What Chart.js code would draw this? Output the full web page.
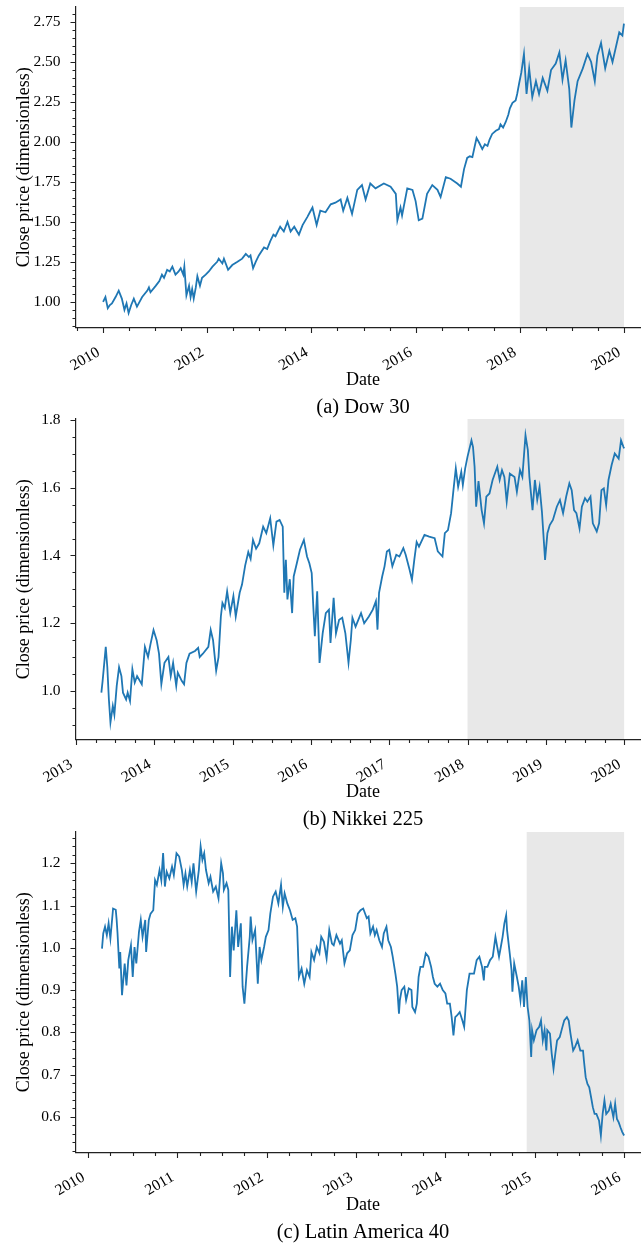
<!DOCTYPE html>
<html>
<head>
<meta charset="utf-8">
<title>Close price of three indices</title>
<script src="https://cdn.jsdelivr.net/npm/chart.js@4.4.1/dist/chart.umd.min.js"></script>
<style>
  html, body { margin: 0; padding: 0; background: #fff; width: 641px; height: 1244px; overflow: hidden; }
  .panel { position: absolute; left: 0; width: 660px; height: 420px; }
  .panel canvas { display: block; }
</style>
</head>
<body>
<div class="panel" style="top:0px"><canvas id="dow" width="660" height="420"></canvas></div>
<div class="panel" style="top:412px"><canvas id="nikkei" width="660" height="420"></canvas></div>
<div class="panel" style="top:825px"><canvas id="latam" width="660" height="420"></canvas></div>
<script>
// ---- Dow 30 (normalised close, decimal years) ----
const dowDates = [
  2010.00, 2010.045, 2010.09, 2010.13, 2010.17, 2010.24, 2010.30, 2010.36, 2010.41, 2010.45,
  2010.49, 2010.54, 2010.59, 2010.65, 2010.70, 2010.75, 2010.85, 2010.88, 2010.91, 2011.01,
  2011.08, 2011.13, 2011.17, 2011.23, 2011.28, 2011.33, 2011.39, 2011.45, 2011.49, 2011.54,
  2011.56, 2011.60, 2011.65, 2011.68, 2011.71, 2011.74, 2011.78, 2011.81, 2011.86, 2011.90,
  2011.97, 2012.03, 2012.10, 2012.19, 2012.22, 2012.29, 2012.32, 2012.40, 2012.48, 2012.58,
  2012.67, 2012.74, 2012.80, 2012.83, 2012.88, 2012.93, 2012.99, 2013.09, 2013.15, 2013.21,
  2013.27, 2013.31, 2013.40, 2013.47, 2013.54, 2013.60, 2013.67, 2013.76, 2013.83, 2013.92,
  2013.97, 2014.02, 2014.10, 2014.17, 2014.27, 2014.37, 2014.46, 2014.56, 2014.61, 2014.69,
  2014.78, 2014.88, 2014.97, 2015.04, 2015.13, 2015.23, 2015.39, 2015.52, 2015.62, 2015.65,
  2015.71, 2015.74, 2015.84, 2015.94, 2016.00, 2016.06, 2016.13, 2016.22, 2016.32, 2016.42,
  2016.48, 2016.58, 2016.67, 2016.80, 2016.87, 2016.93, 2016.99, 2017.04, 2017.09, 2017.13,
  2017.17, 2017.22, 2017.28, 2017.33, 2017.38, 2017.42, 2017.47, 2017.54, 2017.60, 2017.63,
  2017.68, 2017.73, 2017.78, 2017.81, 2017.86, 2017.92, 2017.95, 2017.99, 2018.03, 2018.08,
  2018.13, 2018.18, 2018.24, 2018.31, 2018.37, 2018.44, 2018.53, 2018.60, 2018.69, 2018.76,
  2018.82, 2018.88, 2018.95, 2018.99, 2019.05, 2019.11, 2019.21, 2019.30, 2019.37, 2019.44,
  2019.49, 2019.56, 2019.64, 2019.72, 2019.78, 2019.85, 2019.91, 2019.97, 2020.00
];
const dowClose = [
  1.00, 1.03, 0.96, 0.98, 0.99, 1.03, 1.07, 1.02, 0.95, 0.99,
  0.93, 0.98, 1.02, 0.97, 1.00, 1.03, 1.07, 1.09, 1.06, 1.10,
  1.13, 1.17, 1.15, 1.20, 1.19, 1.22, 1.17, 1.19, 1.21, 1.17,
  1.22, 1.04, 1.10, 1.03, 1.08, 1.02, 1.09, 1.16, 1.10, 1.15,
  1.17, 1.19, 1.22, 1.25, 1.27, 1.24, 1.27, 1.20, 1.23, 1.25,
  1.27, 1.30, 1.28, 1.29, 1.21, 1.25, 1.29, 1.34, 1.33, 1.38,
  1.42, 1.41, 1.47, 1.44, 1.50, 1.44, 1.47, 1.42, 1.48, 1.53,
  1.56, 1.59, 1.48, 1.57, 1.56, 1.61, 1.62, 1.64, 1.57, 1.65,
  1.55, 1.70, 1.73, 1.64, 1.74, 1.71, 1.74, 1.72, 1.675, 1.51,
  1.59, 1.54, 1.71, 1.70, 1.63, 1.51, 1.52, 1.675, 1.73, 1.70,
  1.655, 1.78, 1.77, 1.74, 1.72, 1.83, 1.90, 1.91, 1.905, 1.965,
  2.025, 1.995, 1.955, 1.985, 1.975, 2.015, 2.05, 2.07, 2.08, 2.11,
  2.09, 2.125, 2.17, 2.21, 2.245, 2.26, 2.30, 2.37, 2.435, 2.55,
  2.30, 2.46, 2.28, 2.38, 2.30, 2.40, 2.32, 2.45, 2.49, 2.56,
  2.39, 2.51, 2.33, 2.09, 2.26, 2.38, 2.46, 2.55, 2.50, 2.38,
  2.54, 2.62, 2.46, 2.57, 2.50, 2.60, 2.685, 2.665, 2.74
];
const dowYearTicks = [2010, 2012, 2014, 2016, 2018, 2020];
const dowPriceTicks = [1.00, 1.25, 1.50, 1.75, 2.00, 2.25, 2.50, 2.75];
const dowTestSpan = [2018.0, 2020.0];

// ---- Nikkei 225 ----
const nikkeiDates = [
  2013.324, 2013.34, 2013.38, 2013.40, 2013.42, 2013.44, 2013.47, 2013.49, 2013.52, 2013.55,
  2013.58, 2013.60, 2013.64, 2013.66, 2013.69, 2013.72, 2013.75, 2013.78, 2013.84, 2013.88,
  2013.92, 2013.95, 2013.99, 2014.03, 2014.06, 2014.09, 2014.13, 2014.18, 2014.21, 2014.24,
  2014.28, 2014.30, 2014.35, 2014.38, 2014.41, 2014.45, 2014.52, 2014.56, 2014.58, 2014.62,
  2014.69, 2014.72, 2014.75, 2014.79, 2014.82, 2014.85, 2014.87, 2014.90, 2014.93, 2014.97,
  2015.01, 2015.04, 2015.09, 2015.12, 2015.16, 2015.20, 2015.23, 2015.26, 2015.30, 2015.34,
  2015.39, 2015.43, 2015.48, 2015.52, 2015.56, 2015.60, 2015.64, 2015.66, 2015.68, 2015.70,
  2015.73, 2015.76, 2015.78, 2015.82, 2015.86, 2015.91, 2015.95, 2015.98, 2016.01, 2016.03,
  2016.05, 2016.08, 2016.11, 2016.15, 2016.19, 2016.23, 2016.25, 2016.29, 2016.32, 2016.36,
  2016.40, 2016.44, 2016.48, 2016.51, 2016.53, 2016.57, 2016.64, 2016.68, 2016.74, 2016.79,
  2016.83, 2016.85, 2016.87, 2016.91, 2016.94, 2016.97, 2017.00, 2017.04, 2017.09, 2017.13,
  2017.18, 2017.21, 2017.26, 2017.29, 2017.32, 2017.35, 2017.38, 2017.45, 2017.51, 2017.58,
  2017.62, 2017.68, 2017.71, 2017.75, 2017.79, 2017.82, 2017.85, 2017.88, 2017.92, 2017.94,
  2017.97, 2018.00, 2018.05, 2018.07, 2018.09, 2018.11, 2018.14, 2018.18, 2018.21, 2018.24,
  2018.28, 2018.32, 2018.38, 2018.41, 2018.44, 2018.47, 2018.50, 2018.54, 2018.60, 2018.63,
  2018.67, 2018.70, 2018.74, 2018.77, 2018.79, 2018.83, 2018.86, 2018.89, 2018.92, 2018.95,
  2018.99, 2019.02, 2019.05, 2019.09, 2019.14, 2019.18, 2019.22, 2019.26, 2019.30, 2019.33,
  2019.36, 2019.39, 2019.43, 2019.46, 2019.50, 2019.53, 2019.57, 2019.60, 2019.65, 2019.68,
  2019.71, 2019.74, 2019.77, 2019.80, 2019.84, 2019.88, 2019.93, 2019.96, 2019.99, 2020.00
];
const nikkeiClose = [
  0.995, 1.03, 1.13, 1.07, 0.975, 0.907, 0.956, 0.93, 1.015, 1.07,
  1.044, 0.995, 0.975, 0.995, 0.97, 1.064, 1.025, 1.044, 1.02, 1.13,
  1.10, 1.137, 1.18, 1.15, 1.11, 1.02, 1.083, 1.10, 1.044, 1.083,
  1.015, 1.054, 1.03, 1.02, 1.083, 1.11, 1.118, 1.127, 1.10, 1.11,
  1.13, 1.18, 1.15, 1.06, 1.10, 1.22, 1.26, 1.245, 1.294, 1.23,
  1.28, 1.22, 1.29, 1.314, 1.37, 1.41, 1.39, 1.446, 1.42, 1.436,
  1.485, 1.466, 1.51, 1.43, 1.50, 1.505, 1.485, 1.29, 1.387, 1.27,
  1.33, 1.23, 1.338, 1.377, 1.417, 1.446, 1.397, 1.377, 1.348, 1.25,
  1.162, 1.294, 1.083, 1.17, 1.23, 1.24, 1.142, 1.275, 1.17, 1.21,
  1.216, 1.17, 1.083, 1.152, 1.216, 1.19, 1.23, 1.20, 1.22, 1.24,
  1.265, 1.181, 1.29, 1.338, 1.368, 1.412, 1.417, 1.368, 1.402, 1.397,
  1.422, 1.402, 1.358, 1.328, 1.387, 1.44, 1.426, 1.461, 1.456, 1.451,
  1.412, 1.397, 1.466, 1.475, 1.525, 1.593, 1.657, 1.603, 1.647, 1.608,
  1.657, 1.692, 1.74, 1.72, 1.662, 1.544, 1.62, 1.534, 1.495, 1.574,
  1.583, 1.623, 1.662, 1.623, 1.652, 1.632, 1.559, 1.642, 1.632, 1.588,
  1.652, 1.632, 1.755, 1.711, 1.632, 1.534, 1.623, 1.564, 1.603, 1.529,
  1.387, 1.466, 1.49, 1.505, 1.544, 1.564, 1.525, 1.574, 1.613, 1.593,
  1.534, 1.525, 1.48, 1.544, 1.569, 1.559, 1.574, 1.495, 1.471, 1.495,
  1.593, 1.598, 1.549, 1.623, 1.667, 1.701, 1.686, 1.74, 1.721, 1.716
];
const nikkeiYearTicks = [2013, 2014, 2015, 2016, 2017, 2018, 2019, 2020];
const nikkeiPriceTicks = [1.0, 1.2, 1.4, 1.6, 1.8];
const nikkeiTestSpan = [2018.0, 2020.0];

// ---- Latin America 40 ----
const latamDates = [
  2010.156, 2010.17, 2010.19, 2010.21, 2010.23, 2010.25, 2010.28, 2010.31, 2010.32, 2010.33,
  2010.35, 2010.36, 2010.38, 2010.41, 2010.43, 2010.45, 2010.48, 2010.50, 2010.52, 2010.54,
  2010.57, 2010.59, 2010.61, 2010.64, 2010.65, 2010.68, 2010.70, 2010.73, 2010.75, 2010.77,
  2010.80, 2010.82, 2010.84, 2010.86, 2010.88, 2010.91, 2010.94, 2010.96, 2010.99, 2011.02,
  2011.05, 2011.07, 2011.09, 2011.11, 2011.14, 2011.16, 2011.18, 2011.21, 2011.24, 2011.26,
  2011.28, 2011.30, 2011.32, 2011.35, 2011.37, 2011.40, 2011.43, 2011.46, 2011.49, 2011.51,
  2011.52, 2011.55, 2011.57, 2011.59, 2011.61, 2011.63, 2011.66, 2011.68, 2011.71, 2011.73,
  2011.75, 2011.78, 2011.81, 2011.82, 2011.84, 2011.87, 2011.90, 2011.92, 2011.94, 2011.97,
  2011.99, 2012.02, 2012.04, 2012.07, 2012.10, 2012.13, 2012.16, 2012.18, 2012.20, 2012.23,
  2012.26, 2012.29, 2012.32, 2012.34, 2012.36, 2012.39, 2012.42, 2012.45, 2012.48, 2012.50,
  2012.53, 2012.56, 2012.59, 2012.61, 2012.64, 2012.67, 2012.70, 2012.73, 2012.75, 2012.78,
  2012.82, 2012.84, 2012.87, 2012.90, 2012.93, 2012.96, 2012.99, 2013.02, 2013.05, 2013.08,
  2013.12, 2013.14, 2013.16, 2013.19, 2013.21, 2013.23, 2013.26, 2013.29, 2013.31, 2013.34,
  2013.36, 2013.39, 2013.41, 2013.44, 2013.46, 2013.48, 2013.49, 2013.51, 2013.54, 2013.56,
  2013.59, 2013.62, 2013.63, 2013.66, 2013.68, 2013.70, 2013.72, 2013.75, 2013.78, 2013.81,
  2013.84, 2013.86, 2013.88, 2013.91, 2013.94, 2013.97, 2014.00, 2014.02, 2014.05, 2014.07,
  2014.09, 2014.11, 2014.13, 2014.16, 2014.19, 2014.21, 2014.24, 2014.27, 2014.30, 2014.32,
  2014.35, 2014.38, 2014.41, 2014.43, 2014.44, 2014.47, 2014.50, 2014.53, 2014.56, 2014.58,
  2014.60, 2014.62, 2014.64, 2014.66, 2014.68, 2014.69, 2014.72, 2014.74, 2014.75, 2014.77,
  2014.80, 2014.82, 2014.84, 2014.86, 2014.88, 2014.90, 2014.92, 2014.94, 2014.96, 2014.97,
  2014.99, 2015.02, 2015.05, 2015.07, 2015.09, 2015.11, 2015.13, 2015.14, 2015.17, 2015.19,
  2015.21, 2015.23, 2015.25, 2015.28, 2015.31, 2015.33, 2015.36, 2015.38, 2015.40, 2015.43,
  2015.45, 2015.48, 2015.51, 2015.54, 2015.55, 2015.57, 2015.59, 2015.61, 2015.63, 2015.65,
  2015.67, 2015.69, 2015.72, 2015.74, 2015.76, 2015.78, 2015.80, 2015.83, 2015.85, 2015.88,
  2015.90, 2015.92, 2015.94, 2015.96, 2015.98, 2016.00
];
const latamClose = [
  0.998, 1.034, 1.05, 1.03, 1.058, 1.022, 1.093, 1.090, 1.066, 1.034,
  0.951, 0.99, 0.888, 0.963, 0.911, 0.971, 1.006, 0.931, 1.002, 0.963,
  1.038, 1.066, 1.026, 1.066, 0.99, 1.066, 1.081, 1.089, 1.16, 1.149,
  1.184, 1.16, 1.224, 1.145, 1.18, 1.164, 1.192, 1.172, 1.224, 1.216,
  1.184, 1.149, 1.176, 1.145, 1.184, 1.156, 1.20, 1.133, 1.184, 1.24,
  1.208, 1.224, 1.184, 1.153, 1.168, 1.133, 1.145, 1.117, 1.20, 1.176,
  1.137, 1.153, 1.137, 0.931, 1.05, 0.994, 1.089, 1.002, 1.058, 0.908,
  0.868, 0.955, 1.026, 1.074, 1.018, 1.042, 0.915, 1.002, 0.971, 1.002,
  1.026, 1.042, 1.081, 1.121, 1.133, 1.105, 1.149, 1.097, 1.129, 1.105,
  1.089, 1.066, 1.07, 1.05, 0.931, 0.951, 0.915, 0.947, 0.931, 0.99,
  0.971, 1.002, 0.987, 1.026, 1.014, 0.975, 1.042, 1.010, 1.006, 1.030,
  1.010, 1.018, 0.963, 0.987, 0.994, 1.030, 1.042, 1.081, 1.089, 1.093,
  1.070, 1.074, 1.034, 1.050, 1.030, 1.042, 1.018, 1.002, 1.034, 1.050,
  1.018, 1.002, 0.979, 0.939, 0.908, 0.844, 0.876, 0.900, 0.908, 0.876,
  0.904, 0.900, 0.860, 0.848, 0.868, 0.931, 0.955, 0.955, 0.987, 0.979,
  0.955, 0.931, 0.915, 0.908, 0.915, 0.900, 0.892, 0.868, 0.868, 0.836,
  0.793, 0.836, 0.840, 0.848, 0.828, 0.813, 0.900, 0.939, 0.939, 0.939,
  0.971, 0.979, 0.955, 0.923, 0.955, 0.955, 0.971, 0.979, 1.026, 1.002,
  0.979, 1.002, 1.026, 1.058, 1.077, 1.042, 0.987, 0.947, 0.896, 0.963,
  0.931, 0.908, 0.876, 0.923, 0.860, 0.931, 0.860, 0.828, 0.742, 0.805,
  0.781, 0.805, 0.813, 0.828, 0.781, 0.805, 0.757, 0.805, 0.797, 0.749,
  0.714, 0.749, 0.781, 0.789, 0.813, 0.828, 0.836, 0.828, 0.797, 0.757,
  0.765, 0.781, 0.757, 0.757, 0.734, 0.694, 0.678, 0.670, 0.647, 0.623,
  0.607, 0.607, 0.591, 0.556, 0.607, 0.639, 0.607, 0.615, 0.631, 0.599,
  0.631, 0.595, 0.587, 0.575, 0.564, 0.556
];
const latamYearTicks = [2010, 2011, 2012, 2013, 2014, 2015, 2016];
const latamPriceTicks = [0.6, 0.7, 0.8, 0.9, 1.0, 1.1, 1.2];
const latamTestSpan = [2014.91, 2016.0];

const SERIF = '"Liberation Serif", "Times New Roman", "DejaVu Serif", serif';
const LINE_BLUE = '#1f77b4';
const AXIS_INK = '#222222';

// Shaded evaluation window behind the curve, plus major/minor tick marks on both axes.
const axisDecor = {
  id: 'axisDecor',
  beforeDraw(chart, args, o) {
    const { ctx, chartArea: a } = chart;
    const xs = chart.scales.x;
    const x0 = xs.getPixelForValue(o.span[0]);
    const x1 = xs.getPixelForValue(o.span[1]);
    ctx.save();
    ctx.fillStyle = o.spanColor;
    ctx.fillRect(x0, a.top, x1 - x0, a.bottom - a.top);
    ctx.restore();
  },
  afterDraw(chart, args, o) {
    const { ctx, chartArea: a } = chart;
    const xs = chart.scales.x, ys = chart.scales.y;
    ctx.save();
    ctx.strokeStyle = AXIS_INK;
    ctx.lineWidth = 1.1;
    ctx.beginPath();
    const marks = (scale, majors, step, horizontal) => {
      const first = Math.ceil(scale.min / step - 1e-9);
      for (let k = first; k * step <= scale.max + 1e-9; k++) {
        const v = +(k * step).toFixed(6);
        const isMajor = majors.some(m => Math.abs(m - v) < 1e-6);
        const len = isMajor ? 5.5 : 3.5;
        const p = Math.round(scale.getPixelForValue(v)) + 0.5;
        if (horizontal) { ctx.moveTo(p, a.bottom); ctx.lineTo(p, a.bottom + len); }
        else { ctx.moveTo(a.left, p); ctx.lineTo(a.left - len, p); }
      }
    };
    marks(xs, o.xMajor, o.xMinorStep, true);
    marks(ys, o.yMajor, o.yMinorStep, false);
    ctx.stroke();
    ctx.restore();
  }
};

function priceChart(canvasId, dates, close, cfg) {
  const points = dates.map((d, i) => ({ x: d, y: close[i] }));
  return new Chart(document.getElementById(canvasId), {
    type: 'line',
    data: {
      datasets: [{
        data: points,
        borderColor: LINE_BLUE,
        borderWidth: 1.8,
        pointRadius: 0,
        fill: false,
        tension: 0
      }]
    },
    options: {
      responsive: false,
      animation: false,
      devicePixelRatio: 1,
      parsing: false,
      layout: { padding: { top: 7, right: 10, bottom: 0, left: 0 } },
      plugins: {
        legend: { display: false },
        tooltip: { enabled: false },
        title: {
          display: true,
          text: cfg.caption,
          position: 'bottom',
          fullSize: false,
          color: '#000',
          font: { family: SERIF, size: 20.5, weight: 'normal' },
          padding: { top: 2, bottom: 0 }
        },
        axisDecor: {
          span: cfg.span,
          spanColor: '#e8e8e8',
          xMajor: cfg.xTicks, xMinorStep: cfg.xMinorStep,
          yMajor: cfg.yTicks, yMinorStep: cfg.yMinorStep
        }
      },
      scales: {
        x: {
          type: 'linear',
          min: cfg.xMin, max: cfg.xMax,
          grid: { display: false },
          border: { display: true, color: AXIS_INK, width: 1.2 },
          ticks: {
            autoSkip: false, maxRotation: 30, minRotation: 30,
            padding: 8, labelOffset: -4.5,
            color: '#000',
            font: { family: SERIF, size: 15.5 },
            callback: v => String(v)
          },
          title: {
            display: true, text: 'Date', color: '#000',
            font: { family: SERIF, size: 18 },
            padding: { top: 0, bottom: 2 }
          },
          afterBuildTicks: s => { s.ticks = cfg.xTicks.map(v => ({ value: v })); },
          afterFit: s => { s.height = 66; s.paddingLeft = 0; s.paddingRight = 0; }
        },
        y: {
          type: 'linear',
          min: cfg.yMin, max: cfg.yMax,
          grid: { display: false },
          border: { display: true, color: AXIS_INK, width: 1.2 },
          ticks: {
            autoSkip: false, padding: 7.5,
            color: '#000',
            font: { family: SERIF, size: 15.5 },
            callback: v => Number(v).toFixed(cfg.yDecimals)
          },
          title: {
            display: true, text: 'Close price (dimensionless)', color: '#000',
            font: { family: SERIF, size: 18 },
            padding: { top: 13, bottom: 0 }
          },
          afterBuildTicks: s => { s.ticks = cfg.yTicks.map(v => ({ value: v })); },
          afterFit: s => { s.width = 76; s.paddingTop = 0; s.paddingBottom = 0; }
        }
      }
    },
    plugins: [axisDecor]
  });
}

priceChart('dow', dowDates, dowClose, {
  caption: '(a) Dow 30',
  xMin: 2009.48, xMax: 2020.5, xTicks: dowYearTicks, xMinorStep: 0.5,
  yMin: 0.84, yMax: 2.844, yTicks: dowPriceTicks, yMinorStep: 0.05, yDecimals: 2,
  span: dowTestSpan
});

priceChart('nikkei', nikkeiDates, nikkeiClose, {
  caption: '(b) Nikkei 225',
  xMin: 2013.0, xMax: 2020.33, xTicks: nikkeiYearTicks, xMinorStep: 0.25,
  yMin: 0.857, yMax: 1.803, yTicks: nikkeiPriceTicks, yMinorStep: 0.05, yDecimals: 1,
  span: nikkeiTestSpan
});

priceChart('latam', latamDates, latamClose, {
  caption: '(c) Latin America 40',
  xMin: 2009.865, xMax: 2016.29, xTicks: latamYearTicks, xMinorStep: 0.25,
  yMin: 0.516, yMax: 1.274, yTicks: latamPriceTicks, yMinorStep: 0.02, yDecimals: 1,
  span: latamTestSpan
});
</script>
</body>
</html>
